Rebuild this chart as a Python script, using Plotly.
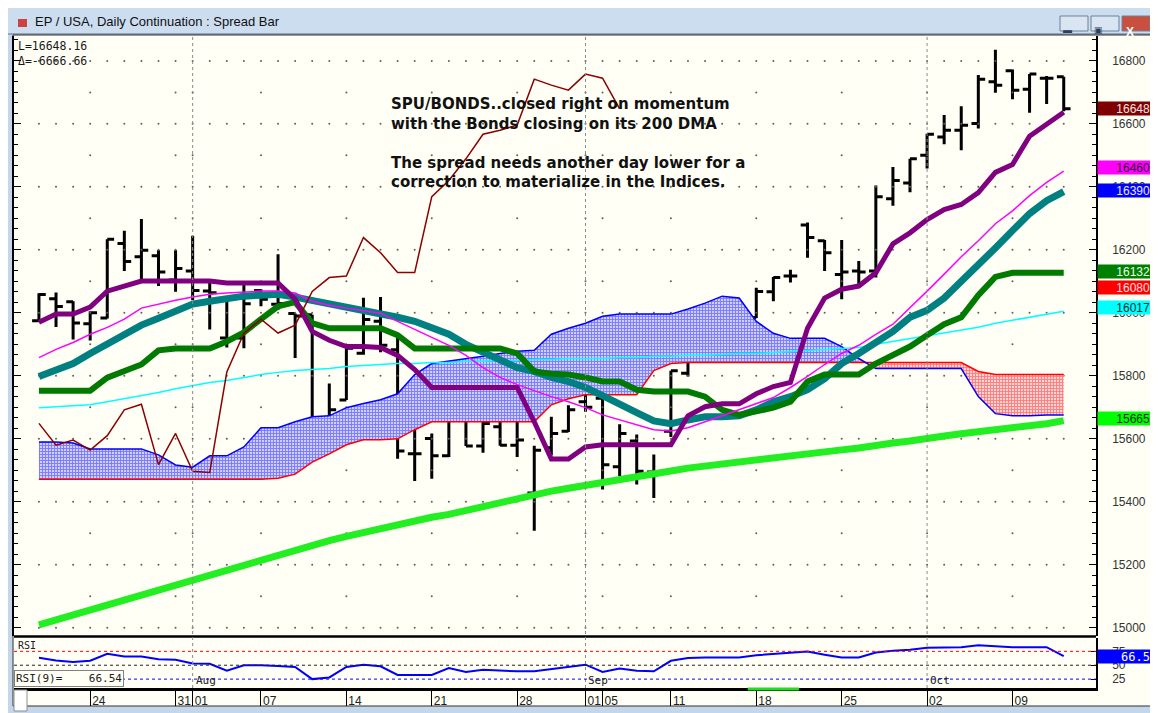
import pandas as pd
import plotly.graph_objects as go

# ---- data ----
# trading days 19 Jul - 12 Oct 2017, Labor Day closed
dates = [d for d in pd.bdate_range("2017-07-19", "2017-10-12") if d != pd.Timestamp("2017-09-04")]
date_keys = [d.strftime("%Y-%m-%d") for d in dates]

bar_open = [15975, 16045, 16035, 15965, 15984, 16220, 16178, 16181, 16104, 16133,
            16069, 15920, 15920, 16071, 16027, 15998, 15994, 15649, 15723, 15872,
            15973, 15883, 15553, 15601, 15546, 15758, 15577, 15638, 15580, 15428,
            15572, 15624, 15718, 15729, 15511, 15593, 15495, 15624, 15808, 15936,
            15982, 15910, 15985, 16067, 16117, 16279, 16229, 16122, 16133, 16133,
            16362, 16412, 16500, 16558, 16580, 16601, 16734, 16769, 16710, 16745,
            16750]
bar_high = [16062, 16065, 16037, 16005, 16234, 16261, 16298, 16199, 16199, 16245,
            16103, 16048, 16096, 16075, 16186, 15998, 15994, 15776, 15888, 16048,
            16050, 15931, 15665, 15617, 15760, 15758, 15665, 15678, 15660, 15578,
            15670, 15707, 15835, 15776, 15646, 15614, 15550, 15816, 15941, 15989,
            16000, 15984, 16080, 16114, 16137, 16287, 16231, 16231, 16165, 16404,
            16463, 16489, 16569, 16628, 16656, 16755, 16835, 16773, 16758, 16752,
            16750]
bar_low = [15970, 15955, 15915, 15912, 15982, 16133, 16098, 16085, 16067, 16040,
           15947, 15890, 15888, 16021, 16010, 15857, 15638, 15601, 15723, 15867,
           15875, 15537, 15466, 15473, 15542, 15577, 15556, 15578, 15542, 15308,
           15548, 15622, 15686, 15439, 15482, 15455, 15412, 15606, 15798, 15869,
           15910, 15880, 15984, 16037, 16096, 16175, 16133, 16043, 16080, 16112,
           16340, 16383, 16458, 16535, 16516, 16585, 16699, 16678, 16635, 16663,
           16640]
bar_close = [16058, 16020, 15968, 16000, 16234, 16163, 16199, 16130, 16141, 16071,
             16064, 16048, 16029, 16043, 16030, 15990, 15640, 15692, 15888, 15979,
             15897, 15561, 15553, 15546, 15760, 15577, 15649, 15580, 15596, 15564,
             15617, 15692, 15700, 15518, 15617, 15497, 15493, 15816, 15935, 15982,
             15936, 15961, 16068, 16112, 16117, 16239, 16191, 16130, 16130, 16369,
             16420, 16489, 16567, 16580, 16596, 16742, 16723, 16707, 16758, 16745,
             16648]

conv_line = [15970, 15996, 15996, 16018, 16069, 16085, 16101, 16101, 16101, 16104,
             16101, 16095, 16095, 16095, 16095, 16043, 15941, 15913, 15893, 15893,
             15890, 15865, 15820, 15763, 15763, 15763, 15763, 15763, 15763, 15654,
             15536, 15536, 15574, 15581, 15581, 15581, 15581, 15581, 15673, 15702,
             15711, 15711, 15743, 15766, 15779, 15951, 16047, 16075, 16085, 16127,
             16219, 16254, 16296, 16328, 16344, 16382, 16446, 16471, 16561, 16599,
             16637]
ma_fast = [15858, 15884, 15906, 15932, 15954, 15980, 16015, 16028, 16040, 16050,
           16059, 16063, 16066, 16069, 16069, 16063, 16037, 16024, 16015, 16008,
           15999, 15973, 15948, 15922, 15897, 15865, 15826, 15795, 15772, 15753,
           15734, 15718, 15699, 15676, 15660, 15644, 15629, 15625, 15635, 15654,
           15673, 15692, 15712, 15731, 15763, 15798, 15836, 15871, 15897, 15932,
           15964, 16015, 16069, 16123, 16178, 16229, 16283, 16324, 16372, 16414,
           16450]
ma_mid = [15798, 15817, 15839, 15871, 15900, 15932, 15961, 15983, 16005, 16028,
          16037, 16047, 16053, 16056, 16059, 16050, 16040, 16028, 16015, 16005,
          15999, 15986, 15973, 15951, 15932, 15900, 15874, 15849, 15826, 15814,
          15795, 15782, 15763, 15737, 15708, 15683, 15657, 15648, 15660, 15670,
          15670, 15673, 15692, 15718, 15734, 15756, 15791, 15839, 15871, 15903,
          15941, 15986, 16008, 16047, 16098, 16155, 16206, 16261, 16315, 16356,
          16385]
base_line = [15753, 15753, 15753, 15753, 15794, 15817, 15836, 15881, 15887, 15887,
             15887, 15909, 15938, 15980, 16021, 16034, 15967, 15951, 15951, 15951,
             15951, 15929, 15887, 15887, 15887, 15887, 15887, 15887, 15871, 15814,
             15807, 15804, 15795, 15782, 15782, 15756, 15750, 15750, 15750, 15734,
             15692, 15676, 15686, 15699, 15718, 15782, 15804, 15804, 15804, 15839,
             15868, 15893, 15929, 15964, 15986, 16056, 16114, 16127, 16127, 16127,
             16127]
ma_slow = [15699, 15702, 15705, 15708, 15718, 15727, 15737, 15747, 15759, 15769,
           15779, 15785, 15795, 15804, 15811, 15817, 15820, 15823, 15830, 15833,
           15836, 15839, 15839, 15842, 15842, 15846, 15846, 15849, 15849, 15852,
           15852, 15855, 15855, 15855, 15858, 15858, 15862, 15862, 15865, 15865,
           15868, 15871, 15871, 15874, 15878, 15881, 15884, 15887, 15890, 15900,
           15909, 15916, 15925, 15935, 15945, 15954, 15967, 15976, 15986, 15996,
           16005]
dma200 = [15009, 15025, 15041, 15057, 15073, 15089, 15105, 15121, 15137, 15153,
          15169, 15185, 15201, 15217, 15233, 15249, 15265, 15277, 15290, 15303,
          15316, 15328, 15338, 15351, 15360, 15373, 15383, 15399, 15412, 15424,
          15434, 15443, 15453, 15463, 15472, 15482, 15491, 15498, 15507, 15514,
          15520, 15526, 15533, 15539, 15546, 15552, 15558, 15565, 15571, 15581,
          15587, 15593, 15603, 15609, 15616, 15622, 15629, 15635, 15641, 15648,
          15658]
span_a = [15590, 15590, 15587, 15568, 15568, 15568, 15568, 15549, 15517, 15510,
          15546, 15546, 15574, 15635, 15635, 15654, 15670, 15673, 15699, 15712,
          15724, 15743, 15804, 15839, 15846, 15855, 15862, 15871, 15878, 15881,
          15932, 15951, 15967, 15989, 15996, 15996, 15996, 15996, 16012, 16031,
          16053, 16047, 15973, 15935, 15919, 15919, 15919, 15893, 15855, 15823,
          15823, 15823, 15823, 15823, 15823, 15734, 15680, 15673, 15673, 15676,
          15676]
span_b = [15472, 15472, 15472, 15472, 15472, 15472, 15472, 15472, 15472, 15472,
          15472, 15472, 15472, 15472, 15475, 15488, 15526, 15552, 15581, 15597,
          15597, 15600, 15629, 15654, 15654, 15654, 15654, 15654, 15654, 15654,
          15708, 15727, 15740, 15740, 15740, 15740, 15817, 15839, 15842, 15842,
          15842, 15842, 15842, 15842, 15842, 15842, 15842, 15842, 15842, 15842,
          15842, 15842, 15842, 15842, 15842, 15814, 15804, 15804, 15804, 15804,
          15804]
lagging = [15649, 15580, 15596, 15564, 15610, 15692, 15710, 15518, 15617, 15497,
           15493, 15812, 15935, 15980, 15936, 15961, 16068, 16112, 16117, 16239,
           16191, 16128, 16128, 16369, 16420, 16489, 16567, 16580, 16596, 16742,
           16723, 16707, 16758, 16745, 16648]
rsi9 = [63.5, 58.5, 56, 58, 70.5, 65.6, 65.6, 60.6, 60, 53,
        52.5, 40, 50, 50, 48.5, 47, 25, 28, 47, 51,
        48, 32.5, 32.5, 32.5, 45, 38, 42, 40.5, 39, 39,
        43, 47, 51, 38, 44, 40, 39, 58, 63, 63.75,
        63.75, 63.75, 68, 70.5, 73, 74.5, 69, 64, 64, 73,
        76, 78, 81.5, 82.5, 82.5, 86, 84, 82.5, 82.5, 82.5,
        66.5]

tick_days = ["2017-07-24", "2017-07-31", "2017-08-01", "2017-08-07", "2017-08-14",
             "2017-08-21", "2017-08-28", "2017-09-01", "2017-09-05", "2017-09-11",
             "2017-09-18", "2017-09-25", "2017-10-02", "2017-10-09"]
month_starts = ["2017-08-01", "2017-09-01", "2017-10-02"]
month_names = ["Aug", "Sep", "Oct"]
selected_days = ["2017-09-18", "2017-09-20"]   # green marker on the date scale

last_values = [16648, 16460, 16390, 16132, 16080, 16017, 15665]
last_bg = ["#800000", "#FF00FF", "#0000FF", "#008000", "#FF0000", "#00FFFF", "#00FF00"]
last_fg = ["#F4E4E4", "#300030", "#E8E8FF", "#E8FFE8", "#FFE0E0", "#003030", "#003000"]
rsi_last = 66.5

# ---- geometry of the CQG window, in screenshot pixels ----
# the page body has an 8px margin, so the figure itself starts at (8, 8)
OFF = 8
W, H = 1158, 713
PX_L, PX_R, PX_T, PX_B = 14, 1096, 36, 688


def px(x):
    return (x - PX_L) / (PX_R - PX_L)


def py(y):
    return (PX_B - y) / (PX_B - PX_T)


xi = list(range(len(dates)))
tick_pos = [date_keys.index(d) for d in tick_days]
tick_txt = [d[-2:] for d in tick_days]
month_pos = [date_keys.index(d) for d in month_starts]
sel_pos = [date_keys.index(d) for d in selected_days]

CREAM = "#FFFFF6"
MONO = "DejaVu Sans Mono, monospace"
ARIAL = "Liberation Sans, Arial, sans-serif"

fig = go.Figure()

# grid dots: every bar on the labelled levels, weekly on the others
gx, gy = [], []
for lvl in range(15000, 16801, 200):
    gx += xi
    gy += [lvl] * len(xi)
for lvl in range(15100, 16801, 200):
    gx += tick_pos
    gy += [lvl] * len(tick_pos)
fig.add_scatter(x=gx, y=gy, mode="markers", marker=dict(size=2, color="#606060"),
                hoverinfo="skip", showlegend=False)

# cloud: blue over red up to the twist, red over blue afterwards
cut = 48
for seg, fg, bg in [(slice(0, cut + 1), "#2020FF", "#CFCFFF"),
                    (slice(cut, len(xi)), "#FF2020", "#FFD4D4")]:
    fig.add_scatter(x=xi[seg], y=span_b[seg], mode="lines", line=dict(width=0),
                    hoverinfo="skip", showlegend=False)
    fig.add_scatter(x=xi[seg], y=span_a[seg], mode="lines", line=dict(width=0),
                    fill="tonexty", fillcolor=bg,
                    fillpattern=dict(shape="+", fgcolor=fg, bgcolor=bg, size=3, solidity=0.5),
                    hoverinfo="skip", showlegend=False)
fig.add_scatter(x=xi, y=span_b, mode="lines", line=dict(color="#FF0000", width=1.5), showlegend=False)
fig.add_scatter(x=xi, y=span_a, mode="lines", line=dict(color="#0000FF", width=1.5), showlegend=False)

# averages
fig.add_scatter(x=xi, y=ma_slow, mode="lines", line=dict(color="#00FFFF", width=1.5), showlegend=False)
fig.add_scatter(x=xi, y=dma200, mode="lines", line=dict(color="#22EE22", width=7), showlegend=False)
fig.add_scatter(x=xi, y=ma_mid, mode="lines", line=dict(color="#008080", width=7), showlegend=False)
fig.add_scatter(x=xi, y=base_line, mode="lines", line=dict(color="#007A00", width=6), showlegend=False)
fig.add_scatter(x=xi, y=ma_fast, mode="lines", line=dict(color="#FF00FF", width=1.5), showlegend=False)
fig.add_scatter(x=xi, y=conv_line, mode="lines", line=dict(color="#800080", width=5), showlegend=False)
fig.add_scatter(x=xi[:len(lagging)], y=lagging, mode="lines",
                line=dict(color="#8B0000", width=1.5), showlegend=False)

# RSI panel
fig.add_scatter(x=xi, y=rsi9, yaxis="y2", mode="lines", line=dict(color="#0000FF", width=2),
                showlegend=False)

# price bars on top
fig.add_trace(go.Ohlc(x=xi, open=bar_open, high=bar_high, low=bar_low, close=bar_close,
                      increasing=dict(line=dict(color="black", width=3)),
                      decreasing=dict(line=dict(color="black", width=3)),
                      tickwidth=0.4, showlegend=False))

shapes = []
# window chrome
shapes.append(dict(type="rect", xref="paper", yref="paper", layer="below",
                   x0=px(6), x1=px(1153), y0=py(34), y1=py(7),
                   fillcolor="#CCDDF0", line=dict(color="#5B6F86", width=1)))
shapes.append(dict(type="rect", xref="paper", yref="paper", layer="below",
                   x0=px(13), x1=px(1151), y0=py(706), y1=py(35),
                   fillcolor=CREAM, line=dict(color="#303030", width=1)))
for bx0, bx1, col in [(1060, 1088, "#D9E5F3"), (1091, 1119, "#D9E5F3"), (1122, 1150, "#C9503E")]:
    shapes.append(dict(type="rect", xref="paper", yref="paper",
                       x0=px(bx0), x1=px(bx1), y0=py(31), y1=py(16),
                       fillcolor=col, line=dict(color="#6C819A", width=1)))
shapes.append(dict(type="rect", xref="paper", yref="paper",
                   x0=px(18), x1=px(27), y0=py(27), y1=py(19),
                   fillcolor="#D04040", line=dict(width=0)))
# small box under the price scale corner (bottom-left)
shapes.append(dict(type="rect", xref="paper", yref="paper",
                   x0=px(14), x1=px(27), y0=py(711), y1=py(690),
                   fillcolor="white", line=dict(color="#909090", width=1)))
# panel separator and month lines
shapes.append(dict(type="line", xref="paper", yref="paper", x0=0, x1=1,
                   y0=py(636.5), y1=py(636.5), line=dict(color="black", width=2.5)))
for m in month_pos:
    shapes.append(dict(type="line", xref="x", yref="paper", x0=m, x1=m, y0=0, y1=1,
                       line=dict(color="#8A8A8A", width=1, dash="dot")))
# selection marker on the date scale
shapes.append(dict(type="line", xref="x", yref="paper", x0=sel_pos[0] - 0.5, x1=sel_pos[1] + 0.5,
                   y0=py(689), y1=py(689), line=dict(color="#22DD22", width=3)))
# RSI levels
for lvl, col in [(75, "#FF0000"), (50, "#202020"), (25, "#0000FF")]:
    shapes.append(dict(type="line", xref="paper", yref="y2", x0=0, x1=1, y0=lvl, y1=lvl,
                       line=dict(color=col, width=1, dash="dot")))

ann = []
ann.append(dict(x=px(33), y=py(21), xref="paper", yref="paper", xanchor="left", yanchor="middle",
                text="EP / USA, Daily Continuation : Spread Bar", showarrow=False,
                font=dict(family="Liberation Sans Narrow, Liberation Sans, Arial", size=13, color="#101010")))
for cx, glyph, col in [(1074, "▬", "#2B3F5A"), (1105, "▣", "#2B3F5A"), (1136, "<b>X</b>", "white")]:
    ann.append(dict(x=px(cx), y=py(23.5), xref="paper", yref="paper", text=glyph, showarrow=False,
                    font=dict(size=9 if col != "white" else 12, color=col, family=ARIAL)))
ann.append(dict(x=px(16), y=py(37), xref="paper", yref="paper", xanchor="left", yanchor="top",
                text="L=16648.16<br>Δ=-6666.66", showarrow=False, align="left",
                font=dict(family=MONO, size=11.5, color="#1A1A1A")))
ann.append(dict(x=px(389), y=py(93), xref="paper", yref="paper", xanchor="left", yanchor="top",
                align="left", showarrow=False,
                text="<b>SPU/BONDS..closed right on momentum<br>with the Bonds closing on its 200 DMA"
                     "<br><br>The spread needs another day lower for a<br>"
                     "correction to materialize in the Indices.</b>",
                font=dict(family="DejaVu Sans, Verdana, sans-serif", size=15, color="#111111")))
for val, bg, fg in zip(last_values, last_bg, last_fg):
    ann.append(dict(x=1, xref="paper", xanchor="left", xshift=1, y=val, yref="y",
                    text=str(val), showarrow=False, bgcolor=bg, width=52, height=13,
                    align="right", borderpad=0, font=dict(family=ARIAL, size=12, color=fg)))
ann.append(dict(x=1, xref="paper", xanchor="left", xshift=1, y=rsi_last, yref="y2",
                text=f"{rsi_last:.1f}", showarrow=False, bgcolor="#0000FF", width=52, height=13,
                align="right", borderpad=0, font=dict(family=MONO, size=12, color="white")))
ann.append(dict(x=px(16), y=py(638), xref="paper", yref="paper", xanchor="left", yanchor="top",
                text="RSI", showarrow=False, font=dict(family=MONO, size=10, color="#202020")))
ann.append(dict(x=px(14), y=py(687), xref="paper", yref="paper", xanchor="left", yanchor="bottom",
                text=f"RSI(9)=&nbsp;&nbsp;&nbsp;&nbsp;{66.54:.2f}", showarrow=False,
                bgcolor=CREAM, bordercolor="#808080", borderwidth=1, borderpad=1,
                font=dict(family=MONO, size=11, color="#202020")))
for m, name in zip(month_pos, month_names):
    ann.append(dict(x=m, xref="x", xanchor="left", xshift=1, y=py(680), yref="paper",
                    yanchor="middle", text=name, showarrow=False,
                    font=dict(family=MONO, size=11, color="#202020")))

fig.update_layout(
    width=W - OFF, height=H - OFF,
    margin=dict(l=PX_L - OFF, r=W - PX_R, t=PX_T - OFF, b=H - PX_B, autoexpand=False),
    paper_bgcolor="#C4D6EA", plot_bgcolor=CREAM,
    showlegend=False, shapes=shapes, annotations=ann,
    xaxis=dict(range=[-1.46, 61.89], anchor="y2", tickmode="array", tickvals=tick_pos,
               ticktext=tick_txt, tickangle=0, ticks="outside", ticklen=15, tickcolor="black",
               ticklabelposition="outside right", showgrid=False, zeroline=False,
               showline=True, linecolor="black", linewidth=3, rangeslider=dict(visible=False),
               tickfont=dict(family=ARIAL, size=12, color="#202020")),
    yaxis=dict(domain=[py(636), 1], range=[14974, 16879], side="right", anchor="x",
               tickmode="array", tickvals=list(range(15000, 16801, 200)), tickformat="d",
               ticks="inside", ticklen=7, tickcolor="black", showgrid=False, zeroline=False,
               showline=True, linecolor="black", linewidth=1.5, mirror="ticks",
               ticklabelstandoff=12,
               minor=dict(ticks="inside", ticklen=4, dtick=200 / 6, tickcolor="black"),
               tickfont=dict(family=ARIAL, size=12, color="#333333")),
    yaxis2=dict(domain=[0, py(638)], range=[9, 99], side="right", anchor="x",
                tickmode="array", tickvals=[25, 50, 75], ticks="inside", ticklen=5,
                tickcolor="black", showgrid=False, zeroline=False, showline=True,
                linecolor="black", linewidth=1.5, ticklabelstandoff=12,
                tickfont=dict(family=ARIAL, size=12, color="#333333")),
)

fig.write_html("out.html")
